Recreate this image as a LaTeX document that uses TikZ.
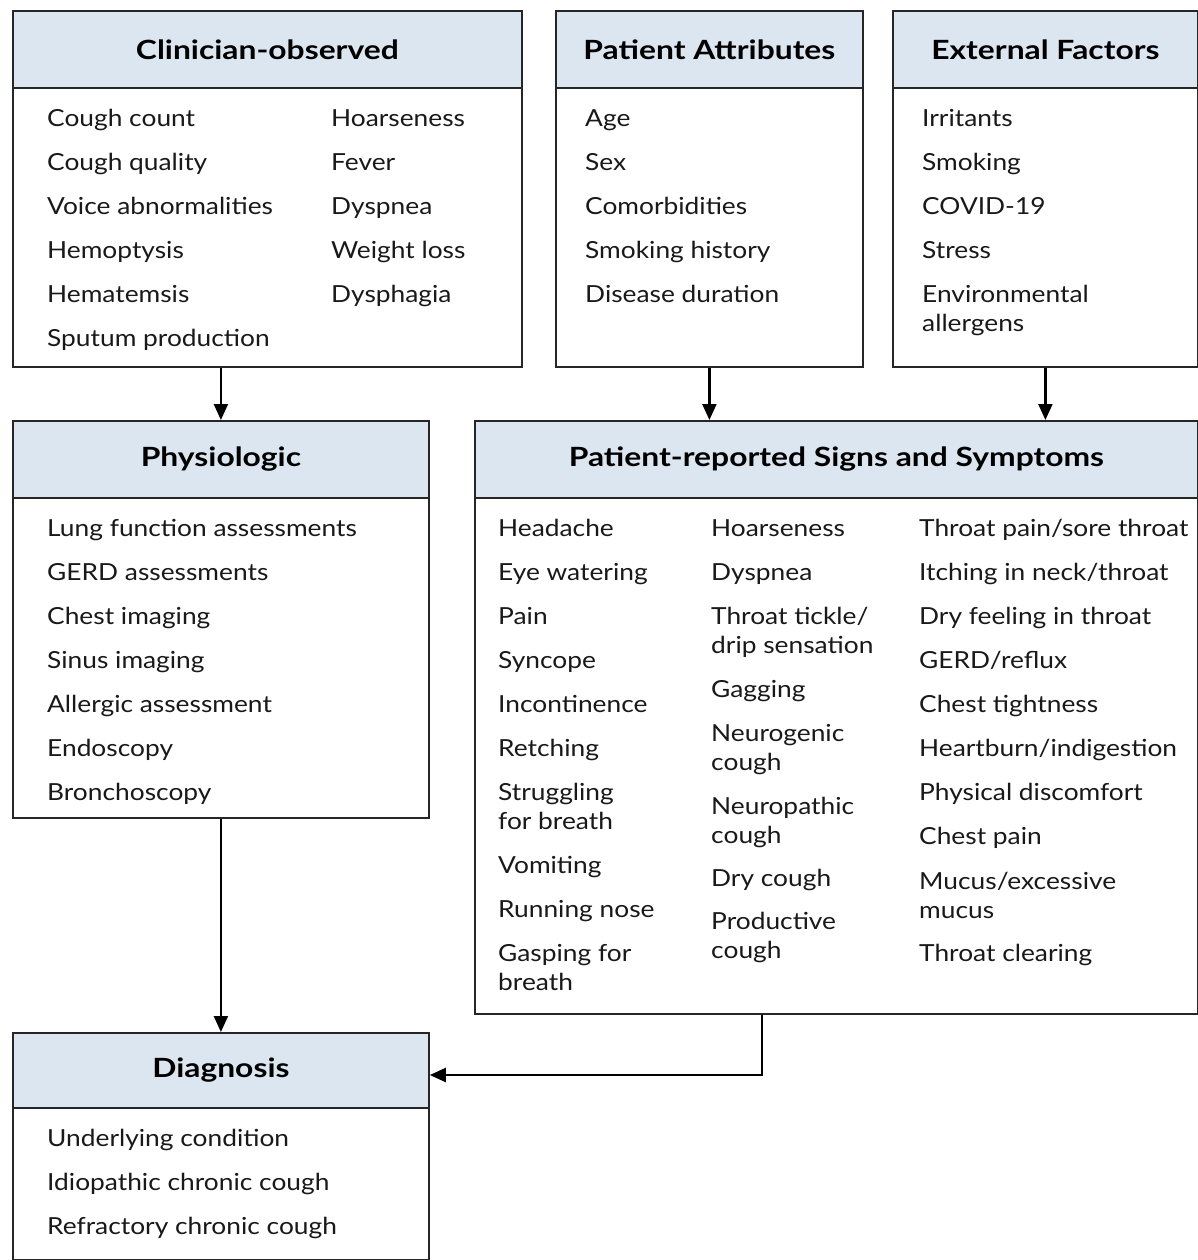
\documentclass[tikz,border=0pt]{standalone}
\usepackage{fontspec}
\setmainfont{Lato}[FakeStretch=1.12]
\newfontfamily\hdrfont{Lato}[FakeStretch=1.2]
\usetikzlibrary{arrows.meta}
\definecolor{hdrblue}{HTML}{DCE6F0}
\newcommand\itm[4]{\node[item] (#1) at (#2,#3+9.5) {#4};}
\newcommand\itmm[4]{\node[item] (#1) at (#2,#3+9.5+28.5) {#4};}
\begin{document}
\begin{tikzpicture}[x=1pt,y=-1pt,
  box/.style={draw=black!85, line width=1.8pt, anchor=north west, inner sep=0pt, fill=white},
  hdr/.style={draw=black!85, line width=1.8pt, fill=hdrblue, anchor=north west, inner sep=0pt,
    font=\hdrfont\fontsize{26.5}{30}\selectfont\bfseries},
  item/.style={anchor=base west, inner sep=0pt, font=\fontsize{23.5}{28.5}\selectfont, align=left, text=black!90},
  arr/.style={line width=2.2pt, -{Triangle[length=16pt,width=14pt]}}]
\useasboundingbox (0,0) rectangle (1198,1260);
% boxes
\node[box, minimum width=509pt, minimum height=356pt] (clin) at (12,10) {};
\node[hdr, minimum width=509pt, minimum height=77pt] (clinh) at (12,10) {Clinician-observed};
\node[box, minimum width=307pt, minimum height=356pt] (pat) at (555,10) {};
\node[hdr, minimum width=307pt, minimum height=77pt] (path) at (555,10) {Patient Attributes};
\node[box, minimum width=305pt, minimum height=356pt] (ext) at (892,10) {};
\node[hdr, minimum width=305pt, minimum height=77pt] (exth) at (892,10) {External Factors};
\node[box, minimum width=416pt, minimum height=397pt] (phys) at (12,420) {};
\node[hdr, minimum width=416pt, minimum height=77pt] (physh) at (12,420) {Physiologic};
\node[box, minimum width=723pt, minimum height=593pt] (pr) at (474,420) {};
\node[hdr, minimum width=723pt, minimum height=77pt] (prh) at (474,420) {Patient-reported Signs and Symptoms};
\node[box, minimum width=416pt, minimum height=227pt] (diag) at (12,1032) {};
\node[hdr, minimum width=416pt, minimum height=75pt] (diagh) at (12,1032) {Diagnosis};
% Clinician-observed
\itm{c1}{47}{117}{Cough count}
\itm{c2}{47}{161}{Cough quality}
\itm{c3}{47}{205}{Voice abnormalities}
\itm{c4}{47}{249}{Hemoptysis}
\itm{c5}{47}{293}{Hematemsis}
\itm{c6}{47}{337}{Sputum production}
\itm{c7}{331}{117}{Hoarseness}
\itm{c8}{331}{161}{Fever}
\itm{c9}{331}{205}{Dyspnea}
\itm{c10}{331}{249}{Weight loss}
\itm{c11}{331}{293}{Dysphagia}
% Patient attributes
\itm{a1}{585}{117}{Age}
\itm{a2}{585}{161}{Sex}
\itm{a3}{585}{205}{Comorbidities}
\itm{a4}{585}{249}{Smoking history}
\itm{a5}{585}{293}{Disease duration}
% External
\itm{e1}{922}{117}{Irritants}
\itm{e2}{922}{161}{Smoking}
\itm{e3}{922}{205}{COVID-19}
\itm{e4}{922}{249}{Stress}
\itmm{e5}{922}{293}{Environmental\\allergens}
% Physiologic
\itm{p1}{47}{527}{Lung function assessments}
\itm{p2}{47}{571}{GERD assessments}
\itm{p3}{47}{615}{Chest imaging}
\itm{p4}{47}{659}{Sinus imaging}
\itm{p5}{47}{703}{Allergic assessment}
\itm{p6}{47}{747}{Endoscopy}
\itm{p7}{47}{791}{Bronchoscopy}
% Patient-reported col1
\itm{r1}{498}{527}{Headache}
\itm{r2}{498}{571}{Eye watering}
\itm{r3}{498}{615}{Pain}
\itm{r4}{498}{659}{Syncope}
\itm{r5}{498}{703}{Incontinence}
\itm{r6}{498}{747}{Retching}
\itmm{r7}{498}{791}{Struggling\\for breath}
\itm{r8}{498}{864}{Vomiting}
\itm{r9}{498}{908}{Running nose}
\itmm{r10}{498}{952}{Gasping for\\breath}
% col2
\itm{s1}{711}{527}{Hoarseness}
\itm{s2}{711}{571}{Dyspnea}
\itmm{s3}{711}{615}{Throat tickle/\\drip sensation}
\itm{s4}{711}{688}{Gagging}
\itmm{s5}{711}{732}{Neurogenic\\cough}
\itmm{s6}{711}{805}{Neuropathic\\cough}
\itm{s7}{711}{877}{Dry cough}
\itmm{s8}{711}{920}{Productive\\cough}
% col3
\itm{t1}{919}{527}{Throat pain/sore throat}
\itm{t2}{919}{571}{Itching in neck/throat}
\itm{t3}{919}{615}{Dry feeling in throat}
\itm{t4}{919}{659}{GERD/reflux}
\itm{t5}{919}{703}{Chest tightness}
\itm{t6}{919}{747}{Heartburn/indigestion}
\itm{t7}{919}{791}{Physical discomfort}
\itm{t8}{919}{835}{Chest pain}
\itmm{t9}{919}{880}{Mucus/excessive\\mucus}
\itm{t10}{919}{952}{Throat clearing}
% Diagnosis
\itm{d1}{47}{1137}{Underlying condition}
\itm{d2}{47}{1181}{Idiopathic chronic cough}
\itm{d3}{47}{1225}{Refractory chronic cough}
% arrows
\draw[arr] (clin.south -| phys.north) -- (phys.north);
\draw[arr] (pat.south) -- (pat.south |- pr.north);
\draw[arr] (ext.south) -- (ext.south |- pr.north);
\draw[arr] (phys.south) -- (diag.north);
\coordinate (bend) at (762,1075);
\draw[arr] (pr.south -| bend) -- (bend) -- (bend -| diag.east);
\end{tikzpicture}
\end{document}
